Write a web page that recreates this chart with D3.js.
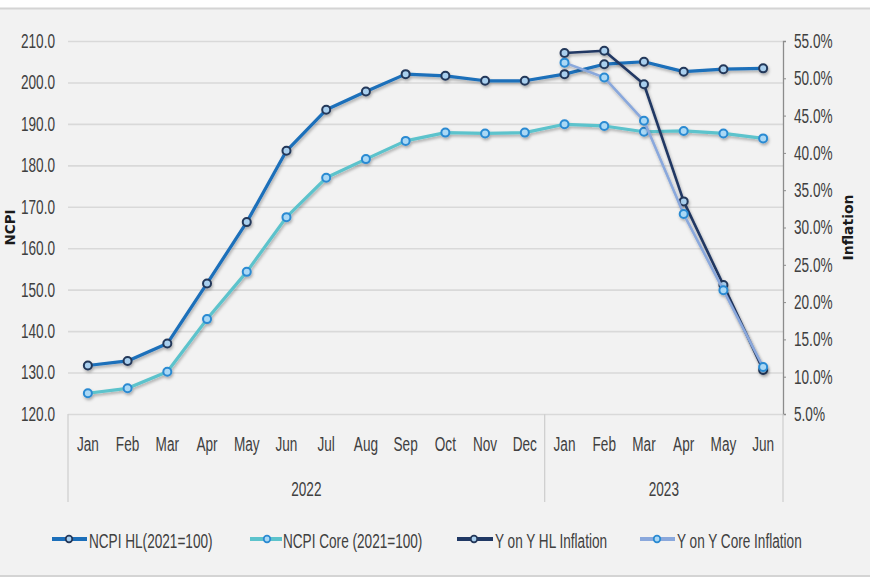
<!DOCTYPE html>
<html>
<head>
<meta charset="utf-8">
<script src="https://cdn.jsdelivr.net/npm/d3@7"></script>
<style>
  html, body { margin: 0; padding: 0; background: #ffffff; }
  svg { display: block; }
</style>
</head>
<body>
<svg id="chart" width="870" height="580"></svg>
<script>
// ---------------- DATA ----------------
const months = ["Jan","Feb","Mar","Apr","May","Jun","Jul","Aug","Sep","Oct","Nov","Dec",
                "Jan","Feb","Mar","Apr","May","Jun"];
const years = ["2022","2022","2022","2022","2022","2022","2022","2022","2022","2022","2022","2022",
               "2023","2023","2023","2023","2023","2023"];
const ncpiHL   = [131.7,132.8,137.0,151.5,166.3,183.5,193.4,197.8,202.0,201.6,200.4,200.4,
                  202.0,204.4,205.0,202.6,203.2,203.4];
const ncpiCore = [125.0,126.2,130.2,142.9,154.3,167.5,177.0,181.5,185.9,187.9,187.7,187.9,
                  189.9,189.5,188.1,188.3,187.7,186.5];
const yoyHL    = [null,null,null,null,null,null,null,null,null,null,null,null,
                  53.4,53.7,49.2,33.5,22.3,10.9];
const yoyCore  = [null,null,null,null,null,null,null,null,null,null,null,null,
                  52.1,50.1,44.3,31.8,21.6,11.3];
const leftTicks  = [120,130,140,150,160,170,180,190,200,210];
const rightTicks = [5,10,15,20,25,30,35,40,45,50,55];
const seriesNames = ["NCPI HL(2021=100)","NCPI Core (2021=100)","Y on Y HL Inflation","Y on Y Core Inflation"];

// ---------------- SETUP ----------------
const svg = d3.select("#chart");
const W = 870, H = 580;
const plot = {left: 68, right: 783, top: 41, bottom: 414};
const FONT = "'Liberation Sans', Arial, sans-serif";
const SX = 0.68;       // condensed look
const TXT = "#404040";

function squish(sel) {
  sel.each(function() {
    const t = d3.select(this);
    const x = +t.attr("x") || 0;
    t.attr("x", x / SX).attr("transform", `scale(${SX},1)`);
  });
}

// background
svg.append("rect").attr("x",0).attr("y",0).attr("width",W).attr("height",H).attr("fill","#ffffff");
svg.append("rect").attr("x",0).attr("y",9).attr("width",W).attr("height",567).attr("fill","#f2f2f2");
svg.append("line").attr("x1",0).attr("x2",W).attr("y1",8.5).attr("y2",8.5).attr("stroke","#d4d4d4").attr("stroke-width",2);
svg.append("line").attr("x1",0).attr("x2",W).attr("y1",576).attr("y2",576).attr("stroke","#d4d4d4").attr("stroke-width",2);

// shadow filter
const defs = svg.append("defs");
const f = defs.append("filter").attr("id","sh").attr("x","-10%").attr("y","-10%").attr("width","120%").attr("height","130%");
f.append("feDropShadow").attr("dx",1).attr("dy",2).attr("stdDeviation",1.4).attr("flood-color","#000").attr("flood-opacity",0.3);

// scales
const idx = d3.range(months.length);
const x = d3.scaleBand().domain(idx).range([plot.left, plot.right]).paddingInner(0).paddingOuter(0);
const cx = i => x(i) + x.bandwidth() / 2;
const yL = d3.scaleLinear().domain([120,210]).range([plot.bottom, plot.top]);
const yR = d3.scaleLinear().domain([5,55]).range([plot.bottom, plot.top]);

// gridlines
const grid = svg.append("g").attr("transform",`translate(${plot.left},0)`)
  .call(d3.axisLeft(yL).tickValues(leftTicks).tickSize(-(plot.right - plot.left)).tickFormat(""));
grid.select(".domain").remove();
grid.selectAll("line").attr("stroke","#d9d9d9").attr("stroke-width",1.6);

// left axis labels
const gL = svg.append("g").attr("transform",`translate(${plot.left},0)`)
  .call(d3.axisLeft(yL).tickValues(leftTicks).tickSize(0).tickPadding(13).tickFormat(d3.format(".1f")));
gL.select(".domain").remove();
gL.selectAll("text").attr("font-family",FONT).attr("font-size",20).attr("fill",TXT);
squish(gL.selectAll("text"));

// right axis
const gR = svg.append("g").attr("transform",`translate(${plot.right},0)`)
  .call(d3.axisRight(yR).tickValues(rightTicks).tickSize(3).tickPadding(8).tickFormat(d => d.toFixed(1) + "%"));
gR.select(".domain").attr("stroke","#8c8c8c").attr("stroke-width",1.3);
gR.selectAll("line").attr("stroke","#8c8c8c");
gR.selectAll("text").attr("font-family",FONT).attr("font-size",20).attr("fill",TXT);
squish(gR.selectAll("text"));

// category axis (months)
const gB = svg.append("g").attr("transform",`translate(0,${plot.bottom})`)
  .call(d3.axisBottom(x).tickSize(0).tickPadding(23).tickFormat(i => months[i]));
gB.select(".domain").remove();
gB.selectAll("text").attr("font-family",FONT).attr("font-size",20).attr("fill",TXT);
squish(gB.selectAll("text"));

// year groups
const yearGroups = d3.groups(idx, i => years[i]);
const seps = [plot.left];
yearGroups.forEach(([yr, ids]) => {
  const x0 = x(ids[0]), x1 = x(ids[ids.length-1]) + x.bandwidth();
  seps.push(x1);
  const t = svg.append("text").attr("x",(x0+x1)/2).attr("y",496).attr("text-anchor","middle")
    .attr("font-family",FONT).attr("font-size",20).attr("fill",TXT).text(yr);
  squish(t);
});
svg.selectAll(".sep").data(seps).enter().append("line")
  .attr("x1",d=>d).attr("x2",d=>d).attr("y1",plot.bottom).attr("y2",502)
  .attr("stroke","#d0d0d0").attr("stroke-width",1.3);

// axis titles
svg.append("text").attr("transform",`translate(15,${(plot.top+plot.bottom)/2}) rotate(-90)`)
  .attr("text-anchor","middle").attr("font-family","'DejaVu Sans', sans-serif").attr("font-weight","bold")
  .attr("font-size",13.5).attr("fill","#1a1a1a").text("NCPI");
svg.append("text").attr("transform",`translate(853,${(plot.top+plot.bottom)/2}) rotate(-90)`)
  .attr("text-anchor","middle").attr("font-family","'DejaVu Sans', sans-serif").attr("font-weight","bold")
  .attr("font-size",14).attr("fill","#1a1a1a").text("Inflation");

// series
const series = [
  {name: seriesNames[0], vals: ncpiHL,   y: yL, color: "#1c6fba", w: 3.2, ms: "#24385a", mf: "#a9cfee"},
  {name: seriesNames[1], vals: ncpiCore, y: yL, color: "#5cc3cc", w: 3.2, ms: "#2a8ad2", mf: "#aad8f5"},
  {name: seriesNames[2], vals: yoyHL,    y: yR, color: "#203864", w: 2.6, ms: "#24385a", mf: "#a9cfee"},
  {name: seriesNames[3], vals: yoyCore,  y: yR, color: "#8aa8dc", w: 2.6, ms: "#2a8ad2", mf: "#aad8f5"}
];

series.forEach(s => {
  const pts = idx.filter(i => s.vals[i] !== null);
  const line = d3.line().x(i => cx(i)).y(i => s.y(s.vals[i]));
  const g = svg.append("g").attr("filter","url(#sh)");
  g.append("path").attr("d", line(pts)).attr("fill","none").attr("stroke", s.color)
    .attr("stroke-width", s.w).attr("stroke-linejoin","round");
  g.selectAll("circle").data(pts).enter().append("circle")
    .attr("cx", i => cx(i)).attr("cy", i => s.y(s.vals[i])).attr("r", 4)
    .attr("fill", s.mf).attr("stroke", s.ms).attr("stroke-width", 2);
});

// legend
const legendPos = [{l0:52,l1:87,m:69,t:89},{l0:250,l1:282,m:267,t:283},{l0:457,l1:493,m:474,t:495},{l0:640,l1:675,m:657,t:677}];
series.forEach((s, k) => {
  const p = legendPos[k];
  svg.append("line").attr("x1",p.l0).attr("x2",p.l1).attr("y1",539).attr("y2",539)
    .attr("stroke", s.color).attr("stroke-width",4);
  svg.append("circle").attr("cx",p.m).attr("cy",539).attr("r",3.3)
    .attr("fill", s.mf).attr("stroke", s.ms).attr("stroke-width",1.8);
  const t = svg.append("text").attr("x",p.t).attr("y",548).attr("font-family",FONT).attr("font-size",20)
    .attr("fill",TXT).text(s.name);
  squish(t);
});
</script>
</body>
</html>
